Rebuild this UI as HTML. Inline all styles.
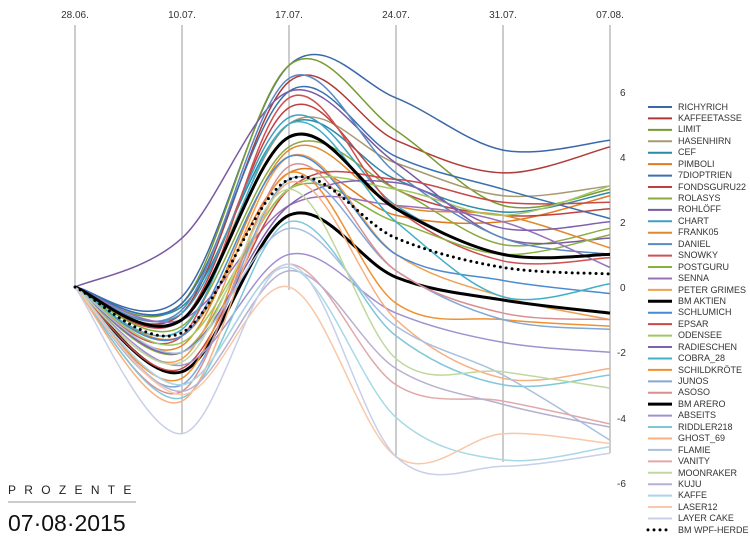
<!DOCTYPE html>
<html><head><meta charset="utf-8"><style>
body{margin:0;background:#fff;width:750px;height:553px;overflow:hidden;font-family:"Liberation Sans",sans-serif}
svg text{font-family:"Liberation Sans",sans-serif}
</style></head><body>
<svg id="s" width="750" height="553" xmlns="http://www.w3.org/2000/svg">
<g font-size="10" fill="#333" text-anchor="middle">
<text x="75" y="18">28.06.</text><text x="182" y="18">10.07.</text><text x="289" y="18">17.07.</text>
<text x="396" y="18">24.07.</text><text x="503" y="18">31.07.</text><text x="610" y="18">07.08.</text>
</g>
<g stroke="#999" stroke-width="1">
<line x1="75" y1="25" x2="75" y2="287"/><line x1="182" y1="25" x2="182" y2="434"/>
<line x1="289" y1="25" x2="289" y2="290"/><line x1="396" y1="25" x2="396" y2="458"/>
<line x1="503" y1="25" x2="503" y2="462"/><line x1="610" y1="25" x2="610" y2="453"/>
</g>
<g font-size="10" fill="#333">
<text x="620" y="96">6</text><text x="620" y="161">4</text><text x="620" y="226">2</text><text x="620" y="291">0</text>
<text x="617" y="356">-2</text><text x="617" y="422">-4</text><text x="617" y="487">-6</text>
</g>
<g id="series" fill="none"></g>
<g id="leg" font-size="9" fill="#333"></g>
<text x="8" y="494" font-size="12" letter-spacing="8.3" fill="#222">PROZENTE</text>
<line x1="8" y1="502" x2="136" y2="502" stroke="#999" stroke-width="1"/>
<text x="8" y="531" font-size="23" fill="#111">07·08·2015</text>
</svg>
<div style="position:absolute;left:678px;top:0;font-size:9px;color:#333;line-height:11.43px">
<div style="position:absolute;top:101.5px;white-space:nowrap">RICHYRICH<br>KAFFEETASSE<br>LIMIT<br>HASENHIRN<br>CEF<br>PIMBOLI<br>7DIOPTRIEN<br>FONDSGURU22<br>ROLASYS<br>ROHLÖFF<br>CHART<br>FRANK05<br>DANIEL<br>SNOWKY<br>POSTGURU<br>SENNA<br>PETER GRIMES<br>BM AKTIEN<br>SCHLUMICH<br>EPSAR<br>ODENSEE<br>RADIESCHEN<br>COBRA_28<br>SCHILDKRÖTE<br>JUNOS<br>ASOSO<br>BM ARERO<br>ABSEITS<br>RIDDLER218<br>GHOST_69<br>FLAMIE<br>VANITY<br>MOONRAKER<br>KUJU<br>KAFFE<br>LASER12<br>LAYER CAKE<br>BM WPF-HERDE</div></div>
<script>
var D=[
["#3a68a8",[-0.3,6.8,5.8,4.2,4.5]],
["#b03a3a",[-0.8,6.3,4.5,3.5,4.3]],
["#7a9a30",[-0.5,6.8,4.8,2.5,3.0]],
["#a89a70",[-1.0,5.0,3.8,2.8,3.1]],
["#2a8aaa",[-0.6,5.0,3.3,2.3,2.9]],
["#e07a20",[-1.5,3.5,2.2,2.0,2.8]],
["#3a70b0",[-0.5,6.0,4.0,3.0,2.1]],
["#c04040",[-1.0,5.5,3.0,2.2,2.4]],
["#8aaa40",[-1.2,4.3,3.0,1.3,1.8]],
["#7a5aa0",[1.5,6.0,3.8,1.5,1.5]],
["#40a0c0",[-0.8,5.2,2.5,1.0,1.0]],
["#e08a30",[-1.8,4.2,2.5,2.2,1.2]],
["#5a8ac0",[-0.7,6.4,3.5,1.5,1.0]],
["#d05050",[-1.5,5.8,2.4,0.8,0.9]],
["#8ab040",[-2.0,3.0,2.0,1.0,1.6]],
["#9a70b8",[-1.0,2.5,2.5,2.0,0.6]],
["#f0a050",[-2.2,4.0,1.0,-0.3,-1.0]],
["#000",[-2.6,2.2,0.3,-0.4,-0.8],3],
["#4a8ad0",[-1.5,4.0,1.0,0.2,-0.2]],
["#c84848",[-2.5,3.0,3.3,2.6,2.6]],
["#a0c860",[-1.7,3.0,3.0,2.2,3.1]],
["#8060b0",[-2.0,2.5,3.2,1.8,2.0]],
["#40b0c8",[-1.3,5.0,2.0,-0.3,0.1]],
["#f09030",[-2.8,3.5,-0.5,-1.0,-1.2]],
["#80a8d8",[-3.0,3.3,0.5,-1.0,-1.3]],
["#d89090",[-3.2,3.7,0.5,-0.8,-1.0]],
["#000",[-1.0,4.6,2.4,1.0,1.0],3],
["#a090d0",[-2.4,1.0,-0.8,-1.7,-2.0]],
["#80c8d8",[-3.4,2.0,-1.5,-3.0,-2.7]],
["#f8b080",[-3.5,3.2,-1.0,-2.8,-2.5]],
["#a8c0e0",[-2.0,1.8,-1.2,-2.7,-4.7]],
["#e0a8a8",[-3.0,0.7,-3.0,-3.5,-4.2]],
["#c0d8a0",[-2.3,3.0,-2.2,-2.6,-3.1]],
["#b8b0d0",[-3.2,0.5,-2.5,-3.6,-4.3]],
["#a8d8e8",[-3.0,0.6,-4.0,-5.3,-4.9]],
["#f8c8a8",[-3.3,0,-5.2,-4.5,-4.8]],
["#c8d0e8",[-4.5,0.7,-5.2,-5.5,-5.1]],
["#000",[-1.4,3.3,1.5,0.6,0.4],3,1]
];
var ns="http://www.w3.org/2000/svg",g=document.getElementById("series"),lg=document.getElementById("leg");
function Y(v){return 287-32.6*v}
D.forEach(function(d,i){
 var p=[[75,287]];d[1].forEach(function(v,k){p.push([182+107*k,Y(v)])});
 var s="M"+p[0][0]+","+p[0][1];
 for(var k=0;k<p.length-1;k++){
  var p0=p[k-1]||p[k],p1=p[k],p2=p[k+1],p3=p[k+2]||p2,t=6;
  s+=" C"+(p1[0]+(p2[0]-p0[0])/t)+","+(p1[1]+(p2[1]-p0[1])/t)+" "+(p2[0]-(p3[0]-p1[0])/t)+","+(p2[1]-(p3[1]-p1[1])/t)+" "+p2[0]+","+p2[1];
 }
 var e=document.createElementNS(ns,"path");e.setAttribute("d",s);e.setAttribute("stroke",d[0]);
 e.setAttribute("stroke-width",d[2]||1.5);
 if(d[3]){e.setAttribute("stroke-dasharray","0 6");e.setAttribute("stroke-linecap","round");}
 g.appendChild(e);
 var y=107+11.43*i,l=document.createElementNS(ns,"line");
 l.setAttribute("x1",648);l.setAttribute("x2",672);l.setAttribute("y1",y);l.setAttribute("y2",y);
 l.setAttribute("stroke",d[0]);l.setAttribute("stroke-width",d[2]||2);
 if(d[3]){l.setAttribute("stroke-dasharray","0 6");l.setAttribute("stroke-linecap","round");}
 lg.appendChild(l);
});
</script>
</body></html>
